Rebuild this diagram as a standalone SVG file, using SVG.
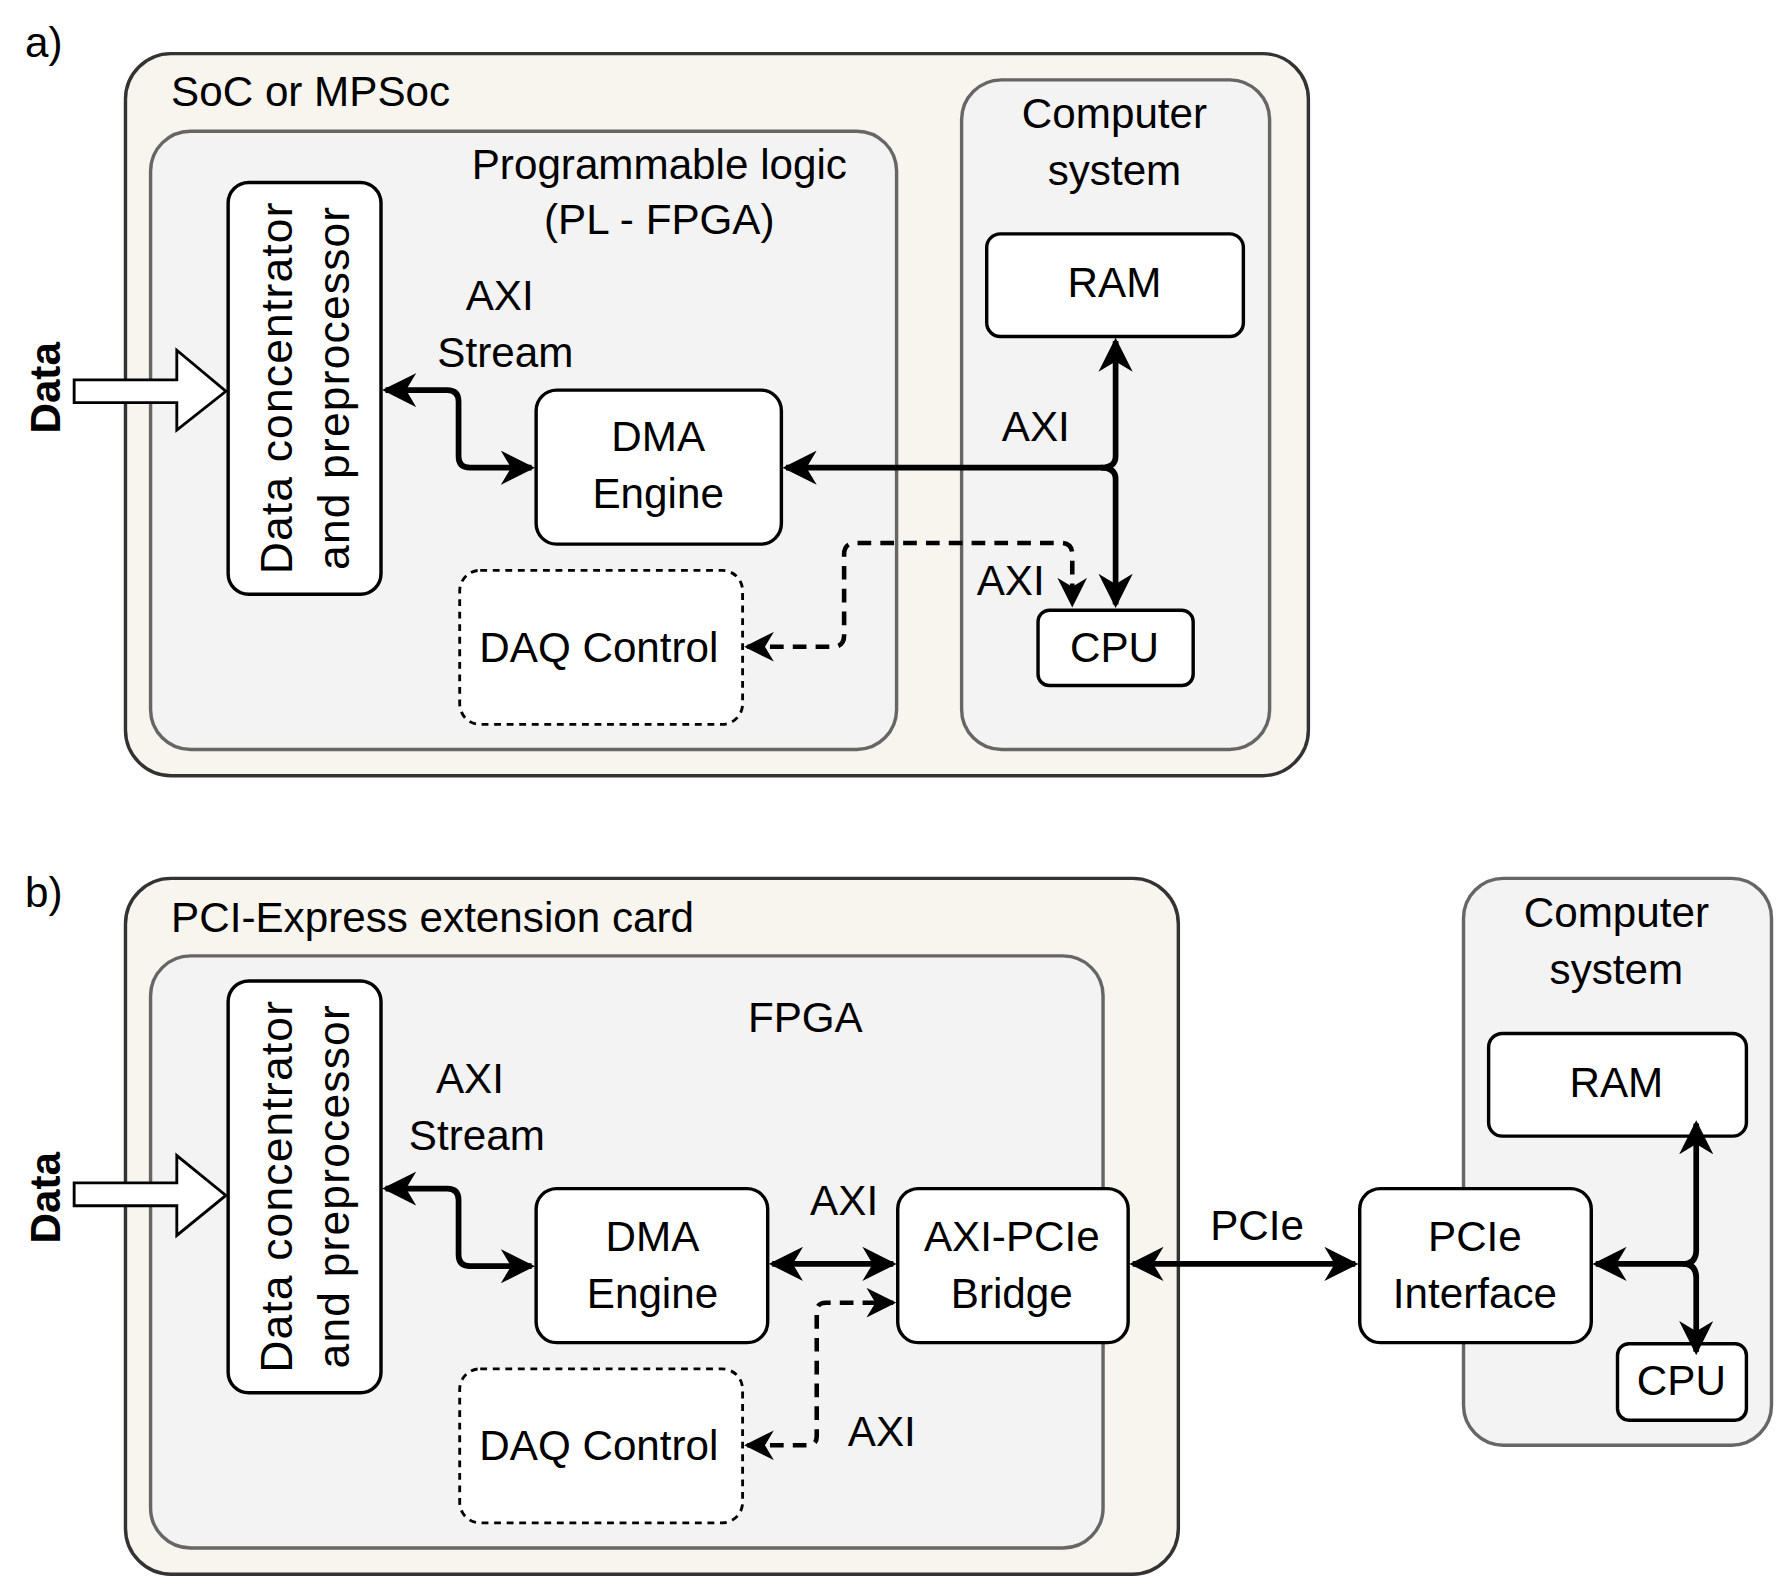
<svg xmlns="http://www.w3.org/2000/svg" width="1784" height="1588" viewBox="0 0 1784 1588">
<style>
text{font-family:"Liberation Sans",Arial,sans-serif;font-size:37px;fill:#000}
.outer{fill:#f7f5ee;stroke:#333;stroke-width:3}
.inner{fill:#f3f3f3;stroke:#666;stroke-width:3}
.node{fill:#fff;stroke:#000;stroke-width:3}
.dash{fill:#fff;stroke:#000;stroke-width:2.5;stroke-dasharray:6 5}
.c{stroke:#000;stroke-width:5;fill:none}
.d{stroke:#000;stroke-width:4;fill:none;stroke-dasharray:12 8}
.m{text-anchor:middle}
.v{font-size:39px;letter-spacing:1px}
</style>
<defs>
<marker id="ah" viewBox="0 0 10 10" refX="9" refY="5" markerWidth="6" markerHeight="6" orient="auto-start-reverse" markerUnits="strokeWidth">
<path d="M0,0 L10,5 L0,10 L3,5 Z" fill="#000"/>
</marker>
<marker id="ahd" viewBox="0 0 10 10" refX="9" refY="5" markerWidth="6.5" markerHeight="6.5" orient="auto-start-reverse" markerUnits="strokeWidth">
<path d="M0,0 L10,5 L0,10 L3,5 Z" fill="#000"/>
</marker>
</defs>
<rect width="1784" height="1588" fill="#fff"/>
<g transform="scale(1.1407)">
<text x="22" y="50">a)</text>
<g id="soc"><rect class="outer" x="110" y="47" width="1037" height="633" rx="40"/><text x="150" y="93">SoC or MPSoc</text></g>
<g id="pl"><rect class="inner" x="132" y="115" width="654" height="542" rx="35"/><text class="m" x="578" y="157">Programmable logic</text><text class="m" x="578" y="205">(PL - FPGA)</text></g>
<g id="cs_a"><rect class="inner" x="843" y="70" width="270" height="587" rx="35"/><text class="m" x="977" y="112">Computer</text><text class="m" x="977" y="162">system</text></g>
<g id="ram_a"><rect class="node" x="865" y="205" width="225" height="90" rx="12"/><text class="m" x="977" y="260">RAM</text></g>
<g id="cpu_a"><rect class="node" x="910" y="535" width="136" height="66" rx="10"/><text class="m" x="977" y="580">CPU</text></g>
<g id="dc_a"><rect class="node" x="200" y="160" width="134" height="361" rx="18"/><text class="m v" transform="translate(256,340) rotate(-90)">Data concentrator</text><text class="m v" transform="translate(306,340) rotate(-90)">and preprocessor</text></g>
<g id="dma_a"><rect class="node" x="470" y="342" width="215" height="135" rx="18"/><text class="m" x="577" y="395">DMA</text><text class="m" x="577" y="445">Engine</text></g>
<g id="daq_a"><rect class="dash" x="403" y="500" width="248" height="135" rx="18"/><text class="m" x="525" y="580">DAQ Control</text></g>
<g id="data_a"><path d="M65,333 H155 V307 L198,343 L155,377 V353 H65 Z" fill="#fff" stroke="#000" stroke-width="2.5"/><text class="m" font-weight="bold" transform="translate(53,340) rotate(-90)">Data</text></g>

<text x="22" y="795">b)</text>
<g id="card"><rect class="outer" x="110" y="770" width="923" height="610" rx="40"/><text x="150" y="817">PCI-Express extension card</text></g>
<g id="fpga"><rect class="inner" x="132" y="838" width="835" height="519" rx="35"/><text class="m" x="706" y="905">FPGA</text></g>
<g id="cs_b"><rect class="inner" x="1283" y="770" width="270" height="497" rx="35"/><text class="m" x="1417" y="813">Computer</text><text class="m" x="1417" y="863">system</text></g>
<g id="ram_b"><rect class="node" x="1305" y="906" width="226" height="90" rx="12"/><text class="m" x="1417" y="962">RAM</text></g>
<g id="cpu_b"><rect class="node" x="1418" y="1178" width="113" height="67" rx="10"/><text class="m" x="1474" y="1223">CPU</text></g>
<g id="dc_b"><rect class="node" x="200" y="860" width="134" height="361" rx="18"/><text class="m v" transform="translate(256,1040) rotate(-90)">Data concentrator</text><text class="m v" transform="translate(306,1040) rotate(-90)">and preprocessor</text></g>
<g id="dma_b"><rect class="node" x="470" y="1042" width="203" height="135" rx="18"/><text class="m" x="572" y="1097">DMA</text><text class="m" x="572" y="1147">Engine</text></g>
<g id="bridge"><rect class="node" x="787" y="1042" width="202" height="135" rx="18"/><text class="m" x="887" y="1097">AXI-PCIe</text><text class="m" x="887" y="1147">Bridge</text></g>
<g id="pcie_if"><rect class="node" x="1192" y="1042" width="203" height="135" rx="18"/><text class="m" x="1293" y="1097">PCIe</text><text class="m" x="1293" y="1147">Interface</text></g>
<g id="daq_b"><rect class="dash" x="403" y="1200" width="248" height="135" rx="18"/><text class="m" x="525" y="1280">DAQ Control</text></g>
<g id="data_b"><path d="M65,1037 H155 V1013 L198,1048 L155,1083 V1057 H65 Z" fill="#fff" stroke="#000" stroke-width="2.5"/><text class="m" font-weight="bold" transform="translate(53,1050) rotate(-90)">Data</text></g>

<g id="connectors">
<path class="c" d="M338,342 H392 Q402,342 402,352 V400 Q402,410 412,410 H466" marker-start="url(#ah)" marker-end="url(#ah)"/>
<path class="c" d="M689,410 H965 Q978,410 978,400 V299" marker-start="url(#ah)" marker-end="url(#ah)"/>
<path class="c" d="M965,410 Q978,410 978,420 V530" marker-end="url(#ah)"/>
<path class="d" d="M655,567 H730 Q740,567 740,557 V486 Q740,476 750,476 H930 Q940,476 940,486 V530" marker-start="url(#ahd)" marker-end="url(#ahd)"/>
<text x="438" y="272" class="m">AXI</text><text x="443" y="322" class="m">Stream</text>
<text x="908" y="387" class="m">AXI</text>
<text x="886" y="522" class="m">AXI</text>

<path class="c" d="M338,1042 H392 Q402,1042 402,1052 V1100 Q402,1110 412,1110 H466" marker-start="url(#ah)" marker-end="url(#ah)"/>
<path class="c" d="M677,1108 H783" marker-start="url(#ah)" marker-end="url(#ah)"/>
<path class="d" d="M655,1267 H708 Q716,1267 716,1259 V1150 Q716,1142 724,1142 H783" marker-start="url(#ahd)" marker-end="url(#ahd)"/>
<path class="c" d="M993,1108 H1188" marker-start="url(#ah)" marker-end="url(#ah)"/>
<path class="c" d="M1399,1108 H1475 Q1487,1108 1487,1096 V985" marker-start="url(#ah)" marker-end="url(#ah)"/>
<path class="c" d="M1475,1108 Q1487,1108 1487,1120 V1185" marker-end="url(#ah)"/>
<text x="412" y="958" class="m">AXI</text><text x="418" y="1008" class="m">Stream</text>
<text x="740" y="1065" class="m">AXI</text>
<text x="773" y="1268" class="m">AXI</text>
<text x="1102" y="1087" class="m">PCIe</text>
</g>
</g>
</svg>
